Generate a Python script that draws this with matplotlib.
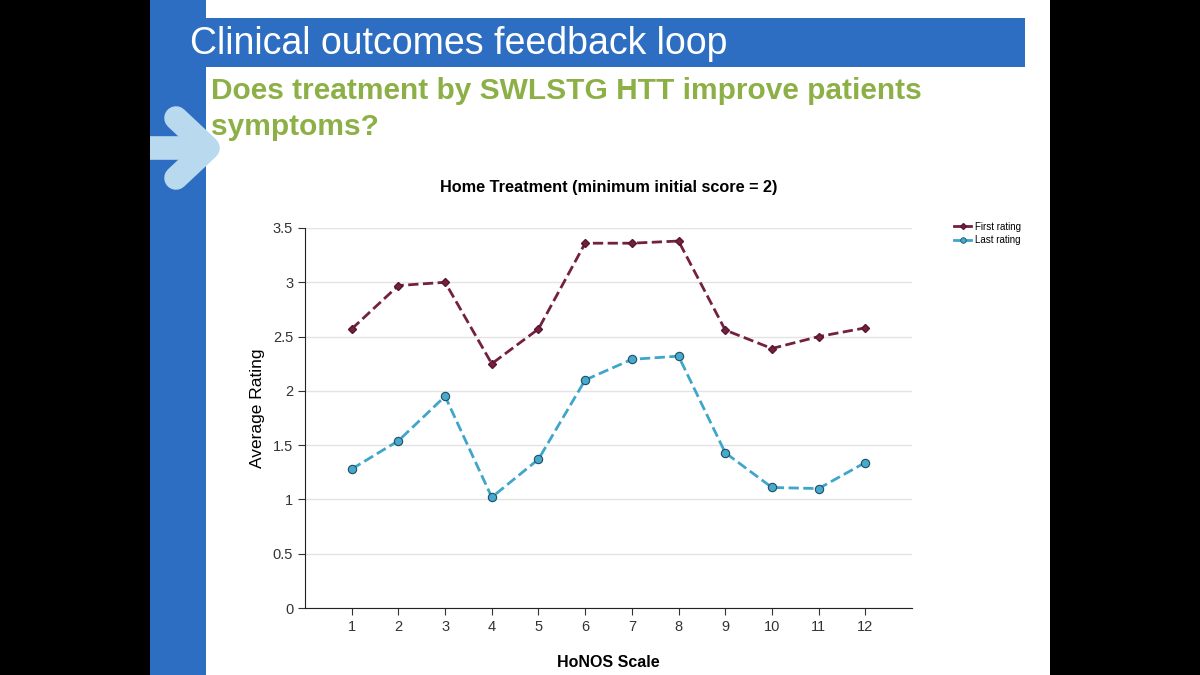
import matplotlib.pyplot as plt
from matplotlib.patches import Rectangle
from matplotlib.lines import Line2D

# HoNOS scale items and average ratings
scale = [1, 2, 3, 4, 5, 6, 7, 8, 9, 10, 11, 12]
first_rating = [2.57, 2.97, 3.00, 2.25, 2.57, 3.36, 3.36, 3.38, 2.56, 2.39, 2.50, 2.58]
last_rating = [1.28, 1.54, 1.95, 1.02, 1.37, 2.10, 2.29, 2.32, 1.43, 1.11, 1.10, 1.34]
yticks = [0, 0.5, 1, 1.5, 2, 2.5, 3, 3.5]
ytick_labels = ['0', '0.5', '1', '1.5', '2', '2.5', '3', '3.5']

W, H = 1200, 675
plt.rcParams['font.family'] = ['Liberation Sans', 'DejaVu Sans']

fig = plt.figure(figsize=(12, 6.75), dpi=100)
fig.patch.set_facecolor('black')

def px(x, y):
  return x / W, 1 - y / H

# slide background and decorations
fig.patches.append(Rectangle((150 / W, 0), 900 / W, 1, transform=fig.transFigure,
                             facecolor='white', edgecolor='none', zorder=-2))
fig.patches.append(Rectangle((150 / W, 0), 56 / W, 1, transform=fig.transFigure,
                             facecolor='#2e6ec2', edgecolor='none', zorder=-1))
fig.patches.append(Rectangle(px(206, 67), 819 / W, 49 / H, transform=fig.transFigure,
                             facecolor='#2e6ec2', edgecolor='none', zorder=-1))

arrow_col = '#b9d9ee'
fig.add_artist(Line2D([150 / W, 200 / W], [1 - 148 / H] * 2, transform=fig.transFigure,
                      color=arrow_col, lw=17, solid_capstyle='butt', zorder=2))
fig.add_artist(Line2D([px(176, 118)[0], px(208, 148)[0], px(176, 178)[0]],
                      [px(176, 118)[1], px(208, 148)[1], px(176, 178)[1]],
                      transform=fig.transFigure, color=arrow_col, lw=17,
                      solid_capstyle='round', solid_joinstyle='round', zorder=2))

fig.text(*px(190, 44), 'Clinical outcomes feedback loop', color='white', fontsize=27,
         va='center', ha='left', zorder=3)
fig.text(*px(211, 91), 'Does treatment by SWLSTG HTT improve patients', color='#8db046',
         fontsize=21.5, fontweight='bold', va='center', ha='left', zorder=3)
fig.text(*px(211, 127), 'symptoms?', color='#8db046', fontsize=21.5, fontweight='bold',
         va='center', ha='left', zorder=3)

# chart
first_col, last_col = '#74213f', '#3fa6cb'
ax = fig.add_axes([305 / W, 1 - 608 / H, 607 / W, 380 / H])
ax.set_zorder(5)
ax.set_facecolor('white')
ax.plot(scale, first_rating, '--', color=first_col, lw=2, marker='D', ms=4,
        mfc=first_col, mec='#5a1530', zorder=3)
ax.plot(scale, last_rating, '--', color=last_col, lw=2, marker='o', ms=6,
        mfc='#47a9cc', mec='#1d4e63', mew=0.8, zorder=3)

ax.set_xlim(0, 13)
ax.set_ylim(0, 3.5)
ax.set_xticks(scale)
ax.set_yticks(yticks)
ax.set_yticklabels(ytick_labels)
ax.tick_params(labelsize=10.5, colors='#333333', length=5, width=0.8)
ax.grid(axis='y', color='#e3e3e3', lw=1)
ax.set_axisbelow(True)
for s in ['top', 'right']:
  ax.spines[s].set_visible(False)
for s in ['left', 'bottom']:
  ax.spines[s].set_color('#222222')
ax.set_xlabel('HoNOS Scale', fontsize=11.5, fontweight='bold')
ax.xaxis.set_label_coords(0.5, -0.124)
ax.set_ylabel('Average Rating', fontsize=12.5)
ax.yaxis.set_label_coords(-0.066, 0.526)
ax.set_title('Home Treatment (minimum initial score = 2)', fontsize=11.7, fontweight='bold',
             pad=26)

# legend shows solid lines
handles = [Line2D([], [], color=first_col, lw=2, marker='D', ms=3, mec='#5a1530'),
           Line2D([], [], color=last_col, lw=2, marker='o', ms=4, mfc='#47a9cc',
                  mec='#1d4e63', mew=0.6)]
leg = fig.legend(handles, ['First rating', 'Last rating'], loc='upper left',
                 bbox_to_anchor=px(945, 213), frameon=False, fontsize=7,
                 handlelength=1.8, labelspacing=0.35, handletextpad=0.4)
leg.set_zorder(6)

fig.savefig('out.png', dpi=100, facecolor=fig.get_facecolor())
